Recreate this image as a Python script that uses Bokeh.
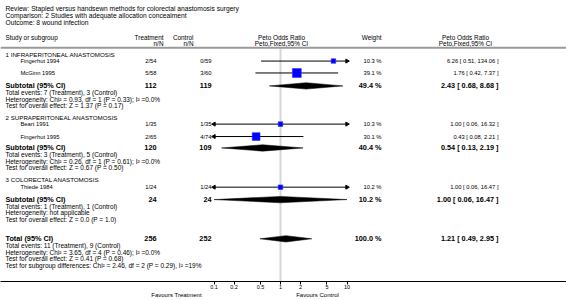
import math
from bokeh.plotting import figure
from bokeh.models import Range1d, LogScale, LogAxis, LinearAxis, FixedTicker, Span
from bokeh.core.properties import value
from bokeh.embed import file_html
from bokeh.resources import INLINE

FONT = "Liberation Sans"

# ---------------- data ----------------
title_lines = [
    "Review:  Stapled versus handsewn methods for colorectal anastomosis surgery",
    "Comparison:  2 Studies with adequate allocation concealment",
    "Outcome:  8 wound infection",
]
group_names = ["1 INFRAPERITONEAL ANASTOMOSIS", "2 SUPRAPERITONEAL ANASTOMOSIS", "3 COLORECTAL ANASTOMOSIS"]

study_names = ["Fingerhut 1994", "McGinn 1995", "Beart 1991", "Fingerhut 1995", "Thiede 1984"]
treat_events = [2, 5, 1, 2, 1]
treat_totals = [54, 58, 35, 65, 24]
ctrl_events = [0, 3, 1, 4, 1]
ctrl_totals = [59, 60, 35, 74, 24]
study_weight = [10.3, 39.1, 10.3, 30.1, 10.2]
study_or = [6.26, 1.76, 1.00, 0.43, 1.00]
study_lo = [0.51, 0.42, 0.06, 0.08, 0.06]
study_hi = [134.06, 7.37, 16.32, 2.21, 16.47]

sub_treat_n = [112, 120, 24]
sub_ctrl_n = [119, 109, 24]
sub_treat_ev = [7, 3, 1]
sub_ctrl_ev = [3, 5, 1]
sub_weight = [49.4, 40.4, 10.2]
sub_or = [2.43, 0.54, 1.00]
sub_lo = [0.68, 0.13, 0.06]
sub_hi = [8.68, 2.19, 16.47]
sub_het = [
    "Heterogeneity: Chi\u00b2 = 0.93, df = 1 (P = 0.33); I\u00b2 =0.0%",
    "Heterogeneity: Chi\u00b2 = 0.26, df = 1 (P = 0.61); I\u00b2 =0.0%",
    "Heterogeneity: not applicable",
]
sub_test = [
    "Test for overall effect: Z = 1.37 (P = 0.17)",
    "Test for overall effect: Z = 0.67 (P = 0.50)",
    "Test for overall effect: Z = 0.0 (P = 1.0)",
]

total_treat_n = 256
total_ctrl_n = 252
total_treat_ev = 11
total_ctrl_ev = 9
total_weight = 100.0
total_or = 1.21
total_lo = 0.49
total_hi = 2.95
total_notes = [
    "Heterogeneity: Chi\u00b2 = 3.65, df = 4 (P = 0.46); I\u00b2 =0.0%",
    "Test for overall effect: Z = 0.41 (P = 0.68)",
    "Test for subgroup differences: Chi\u00b2 = 2.46, df = 2 (P = 0.29), I\u00b2 =19%",
]

tick_values = [0.1, 0.2, 0.5, 1, 2, 5, 10]
tick_labels = ["0.1", "0.2", "0.5", "1", "2", "5", "10"]
favour_labels = ["Favours Treatment", "Favours Control"]

# ---------------- layout (page pixel coordinates) ----------------
FIG_W, FIG_H = 566, 300
FRAME_B = 283
NULL_X = 280.0
DECADE = 66.5
AX_MIN, AX_MAX = 0.1, 10

TITLE_Y = [8, 15, 22]
HEAD_Y1, HEAD_Y2 = 37, 43
HEAD_LINE_Y = 47.5
GROUP_Y = [54, 118, 180.5]
STUDY_Y = [61, 73, 124.5, 137, 188]
SUB_Y = [86, 148.5, 200.5]
TOTAL_Y = 240
NOTE_DY = [7, 13.5, 20, 26.5]

X_LEFT = 5
X_STUDY = 20
X_TREAT = 156
X_CTRL = 211
X_WEIGHT = 381
X_OR = 498
X_HEAD_TREAT = 163
X_HEAD_CTRL = 193
X_HEAD_MID = 281
X_HEAD_RIGHT = 465
FAV_X = [176, 317]

FS_TITLE = "6.7px"
FS_HEAD = "6.4px"
FS_GROUP = "6.2px"
FS_ROW = "5.8px"
FS_NOTE = "6.5px"
FS_BOLD = "7.3px"

p = figure(width=FIG_W, height=FIG_H, output_backend="svg", toolbar_location=None,
           x_range=Range1d(0, FIG_W), y_range=Range1d(FRAME_B, 0),
           x_axis_location=None, y_axis_location=None, min_border=0,
           outline_line_color=None, background_fill_color="white", border_fill_color="white")
p.grid.visible = False

log_lo = 10 ** ((0 - NULL_X) / DECADE)
log_hi = 10 ** ((FIG_W - NULL_X) / DECADE)
p.extra_x_ranges = {"or": Range1d(log_lo, log_hi)}
p.extra_x_scales = {"or": LogScale()}


def txt(xs, ys, texts, size, align="left", bold=False, color="black"):
    p.text(x=xs, y=ys, text=texts, text_font=value(FONT), text_font_size=value(size),
           text_align=align, text_baseline="middle", text_color=color,
           text_font_style="bold" if bold else "normal")


# header line and null line
p.add_layout(Span(location=HEAD_LINE_Y, dimension="width", line_color="#9a9a9a", line_width=2))
p.segment(x0=[1], y0=[HEAD_LINE_Y + 1], x1=[1], y1=[FRAME_B], x_range_name="or",
          line_color="#d6d6d6", line_width=2)

# titles and headers
txt([X_LEFT] * 3, TITLE_Y, title_lines, FS_TITLE)
txt([X_LEFT], [HEAD_Y1], ["Study or subgroup"], FS_HEAD)
txt([X_HEAD_TREAT, X_HEAD_TREAT, X_HEAD_CTRL, X_HEAD_CTRL],
    [HEAD_Y1, HEAD_Y2, HEAD_Y1, HEAD_Y2], ["Treatment", "n/N", "Control", "n/N"], FS_HEAD, "right")
txt([X_HEAD_MID, X_HEAD_MID, X_HEAD_RIGHT, X_HEAD_RIGHT],
    [HEAD_Y1, HEAD_Y2, HEAD_Y1, HEAD_Y2],
    ["Peto Odds Ratio", "Peto,Fixed,95% CI", "Peto Odds Ratio", "Peto,Fixed,95% CI"], FS_HEAD, "center")
txt([X_WEIGHT], [HEAD_Y1], ["Weight"], FS_HEAD, "right")

# group labels
txt([X_LEFT] * len(group_names), GROUP_Y, group_names, FS_GROUP)

# study rows
txt([X_STUDY] * len(study_names), STUDY_Y, study_names, FS_ROW)
txt([X_TREAT] * 5, STUDY_Y, [f"{e}/{n}" for e, n in zip(treat_events, treat_totals)], FS_ROW, "right")
txt([X_CTRL] * 5, STUDY_Y, [f"{e}/{n}" for e, n in zip(ctrl_events, ctrl_totals)], FS_ROW, "right")
txt([X_WEIGHT] * 5, STUDY_Y, [f"{w:.1f} %" for w in study_weight], FS_ROW, "right")
txt([X_OR] * 5, STUDY_Y, [f"{o:.2f} [ {l:.2f}, {h:.2f} ]" for o, l, h in zip(study_or, study_lo, study_hi)],
    FS_ROW, "right")

# subtotal rows
bold_y = SUB_Y + [TOTAL_Y]
txt([X_LEFT] * 4, bold_y, ["Subtotal (95% CI)"] * 3 + ["Total (95% CI)"], FS_BOLD, bold=True)
txt([X_TREAT] * 4, bold_y, [str(v) for v in sub_treat_n + [total_treat_n]], FS_BOLD, "right", True)
txt([X_CTRL] * 4, bold_y, [str(v) for v in sub_ctrl_n + [total_ctrl_n]], FS_BOLD, "right", True)
txt([X_WEIGHT] * 4, bold_y, [f"{w:.1f} %" for w in sub_weight + [total_weight]], FS_BOLD, "right", True)
txt([X_OR] * 4, bold_y,
    [f"{o:.2f} [ {l:.2f}, {h:.2f} ]" for o, l, h in zip(sub_or + [total_or], sub_lo + [total_lo], sub_hi + [total_hi])],
    FS_BOLD, "right", True)

# notes
note_x, note_y, note_t = [], [], []
for i, sy in enumerate(SUB_Y):
    lines = [f"Total events: {sub_treat_ev[i]} (Treatment), {sub_ctrl_ev[i]} (Control)", sub_het[i], sub_test[i]]
    for dy, t in zip(NOTE_DY, lines):
        note_x.append(X_LEFT); note_y.append(sy + dy); note_t.append(t)
lines = [f"Total events: {total_treat_ev} (Treatment), {total_ctrl_ev} (Control)"] + total_notes
for dy, t in zip(NOTE_DY, lines):
    note_x.append(X_LEFT); note_y.append(TOTAL_Y + dy); note_t.append(t)
txt(note_x, note_y, note_t, FS_NOTE)

# CI lines
x0 = [max(l, AX_MIN) for l in study_lo]
x1 = [min(h, AX_MAX) for h in study_hi]
p.segment(x0=x0, y0=STUDY_Y, x1=x1, y1=STUDY_Y, x_range_name="or", line_color="black", line_width=1)

# arrowheads for clipped CIs
rx = [AX_MAX for h in study_hi if h > AX_MAX]
ry = [y for h, y in zip(study_hi, STUDY_Y) if h > AX_MAX]
lx = [AX_MIN for l in study_lo if l < AX_MIN]
ly = [y for l, y in zip(study_lo, STUDY_Y) if l < AX_MIN]
p.scatter(x=rx, y=ry, marker="triangle", size=4, angle=-math.pi / 2, x_range_name="or",
          fill_color="black", line_color="black")
p.scatter(x=lx, y=ly, marker="triangle", size=4, angle=math.pi / 2, x_range_name="or",
          fill_color="black", line_color="black")

# squares
p.scatter(x=study_or, y=STUDY_Y, marker="square", size=[1.42 * math.sqrt(w) for w in study_weight],
          x_range_name="or", fill_color="#0000ff", line_color="#3030ff", line_width=0.6)

# diamonds
DH = 3.2
xs, ys = [], []
for o, l, h, y in zip(sub_or + [total_or], sub_lo + [total_lo], sub_hi + [total_hi], bold_y):
    xs.append([max(l, AX_MIN), o, min(h, AX_MAX), o])
    ys.append([y, y - DH, y, y + DH])
p.patches(xs=xs, ys=ys, x_range_name="or", fill_color="black", line_color="black", line_width=0.5)

# axis
ax = LogAxis(x_range_name="or", ticker=FixedTicker(ticks=tick_values, minor_ticks=[]),
             major_label_overrides={t: s for t, s in zip(tick_values, tick_labels)})
ax.axis_line_color = "black"
ax.axis_line_width = 1
ax.major_tick_line_color = "black"
ax.major_tick_out = 3
ax.major_tick_in = 0
ax.minor_tick_out = 0
ax.minor_tick_in = 0
ax.major_label_standoff = 0
ax.major_label_text_font = FONT
ax.major_label_text_font_size = "5.5px"
ax.major_label_text_color = "black"
p.add_layout(ax, "below")

fav = LinearAxis(ticker=FixedTicker(ticks=FAV_X, minor_ticks=[]),
                 major_label_overrides={x: s for x, s in zip(FAV_X, favour_labels)})
fav.axis_line_color = None
fav.major_tick_line_color = None
fav.minor_tick_line_color = None
fav.major_tick_out = 0
fav.major_tick_in = 0
fav.major_label_standoff = 0
fav.major_label_text_font = FONT
fav.major_label_text_font_size = "6px"
fav.major_label_text_color = "black"
p.add_layout(fav, "below")

open("out.html", "w").write(file_html(p, INLINE))
